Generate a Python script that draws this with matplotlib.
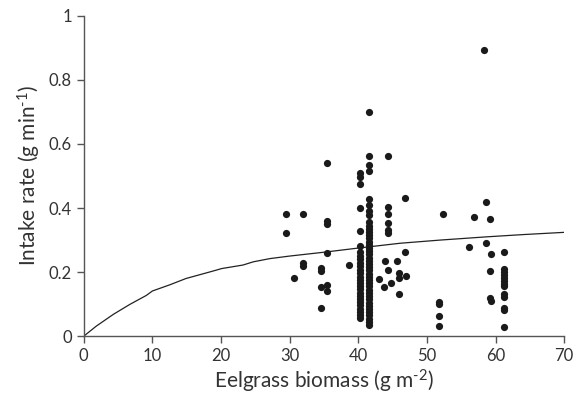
import matplotlib
matplotlib.use('Agg')
import matplotlib.pyplot as plt

plt.rcParams['font.family'] = ['Lato', 'DejaVu Sans']
plt.rcParams['mathtext.fontset'] = 'custom'
plt.rcParams['mathtext.rm'] = 'Lato'
plt.rcParams['mathtext.default'] = 'regular'

# points (biomass, intake rate)
col_a = [0.508, 0.498, 0.476, 0.40, 0.327, 0.28, 0.264, 0.25, 0.24, 0.229, 0.218,
         0.206, 0.196, 0.186, 0.176, 0.166, 0.156, 0.146, 0.136, 0.126, 0.116,
         0.106, 0.096, 0.086, 0.076, 0.066, 0.058]
col_b = [0.70, 0.561, 0.533, 0.517, 0.427, 0.41, 0.39, 0.378, 0.355, 0.345, 0.335,
         0.325, 0.315, 0.305, 0.295, 0.285, 0.275, 0.265, 0.255, 0.245, 0.235,
         0.225, 0.215, 0.205, 0.195, 0.185, 0.175, 0.165, 0.155, 0.145, 0.135,
         0.125, 0.115, 0.105, 0.095, 0.085, 0.075, 0.065, 0.055, 0.045, 0.035]
col_c = [0.263, 0.209, 0.199, 0.19, 0.18, 0.172, 0.163, 0.155, 0.133, 0.123,
         0.088, 0.083, 0.027]

other_x = [29.4, 29.4, 30.6, 32.0, 32.0, 32.0, 34.6, 34.6, 34.6, 34.6,
           35.4, 35.4, 35.4, 35.4, 35.4, 35.4, 38.6,
           43.0, 43.7, 43.9, 44.3, 44.3, 44.3, 44.3, 44.3, 44.3, 44.3, 44.7,
           45.6, 46.0, 46.0, 46.0, 46.8, 46.8, 47.0,
           51.8, 51.8, 51.8, 51.8, 52.3, 56.1, 56.9, 58.3, 58.6, 58.6,
           59.2, 59.2, 59.2, 59.4, 59.4]
other_y = [0.381, 0.321, 0.182, 0.381, 0.228, 0.220, 0.212, 0.202, 0.154, 0.088,
           0.542, 0.358, 0.350, 0.260, 0.161, 0.142, 0.223,
           0.178, 0.154, 0.235, 0.561, 0.404, 0.381, 0.352, 0.331, 0.321, 0.206, 0.167,
           0.235, 0.196, 0.183, 0.133, 0.43, 0.263, 0.188,
           0.107, 0.099, 0.064, 0.031, 0.381, 0.279, 0.371, 0.894, 0.419, 0.292,
           0.365, 0.203, 0.118, 0.255, 0.109]

# fitted curve
curve_x = [0, 1.8, 4.3, 6.7, 9.1, 10, 12.5, 14.9, 18.8, 20.1, 23.2, 24.7, 27.1,
           30, 35, 40, 46.1, 52, 58.7, 64, 70]
curve_y = [0, 0.031, 0.068, 0.099, 0.127, 0.141, 0.16, 0.18, 0.203, 0.211, 0.222,
           0.232, 0.242, 0.25, 0.262, 0.275, 0.29, 0.30, 0.31, 0.317, 0.324]

xs = other_x + [40.3] * len(col_a) + [41.6] * len(col_b) + [61.3] * len(col_c)
ys = other_y + col_a + col_b + col_c

fig = plt.figure(figsize=(5.78, 3.95), dpi=100)
ax = fig.add_axes([0.145, 0.149, 0.831, 0.811])

ax.plot(curve_x, curve_y, color='#222222', lw=0.9)
ax.scatter(xs, ys, s=27, color='#1a1a1a', zorder=3, clip_on=False, linewidths=0)

ax.set_xlim(0, 70)
ax.set_ylim(0, 1)
ax.set_xticks(range(0, 71, 10))
ax.set_yticks([0, 0.2, 0.4, 0.6, 0.8, 1])
ax.set_yticklabels(['0', '0.2', '0.4', '0.6', '0.8', '1'])

for s in ['top', 'right']:
    ax.spines[s].set_visible(False)
for s in ['left', 'bottom']:
    ax.spines[s].set_color('#555555')
    ax.spines[s].set_linewidth(1)
ax.tick_params(colors='#555555', labelcolor='#333333', labelsize=12, length=5, width=1)

ax.set_xlabel(r'Eelgrass biomass (g m$^{\text{-}2}$)', fontsize=15, color='#333333', labelpad=3)
ax.set_ylabel(r'Intake rate (g min$^{\text{-}1}$)', fontsize=15, color='#333333', labelpad=4)

fig.savefig('out.png', dpi=100)
